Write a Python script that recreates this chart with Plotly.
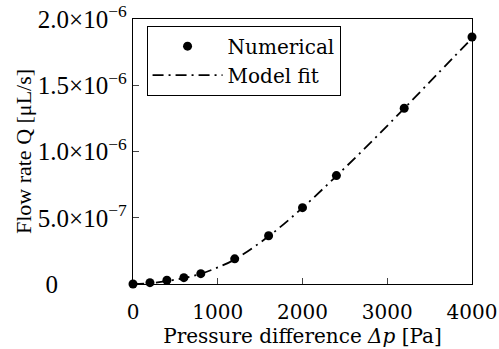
import plotly.graph_objects as go

pressure = [0, 200, 400, 600, 800, 1200, 1600, 2000, 2400, 3200, 4000]
flow_numerical = [0.0, 0.010e-6, 0.028e-6, 0.048e-6, 0.078e-6, 0.19e-6, 0.364e-6,
                  0.576e-6, 0.818e-6, 1.326e-6, 1.864e-6]
fit_pressure = [0, 200, 400, 600, 800, 1000, 1200, 1600, 2000, 2400, 2800, 3200, 3600, 4000]
flow_fit = [0.0, 0.006e-6, 0.022e-6, 0.045e-6, 0.078e-6, 0.125e-6, 0.185e-6, 0.36e-6,
            0.575e-6, 0.815e-6, 1.065e-6, 1.325e-6, 1.59e-6, 1.855e-6]

y_tickvals = [0, 5e-7, 1e-6, 1.5e-6, 2e-6]
y_ticktext = ["0" + "\u00a0" * 11,
              "5.0×10<sup>−7</sup>", "1.0×10<sup>−6</sup>",
              "1.5×10<sup>−6</sup>", "2.0×10<sup>−6</sup>"]
x_tickvals = [0, 1000, 2000, 3000, 4000]

FX = dict(family="DejaVu Serif", size=20, color="black")
FXT = dict(family="DejaVu Serif", size=20, color="black")
FY = dict(family="Liberation Serif", size=25, color="black")
FYT = dict(family="Liberation Serif", size=22, color="black")

fig = go.Figure()
fig.add_trace(go.Scatter(
    x=pressure, y=flow_numerical, mode="markers", name="Numerical",
    marker=dict(color="black", size=9), cliponaxis=False))
fig.add_trace(go.Scatter(
    x=fit_pressure, y=flow_fit, mode="lines", name="Model fit",
    line=dict(color="black", width=1.8, dash="11px,5px,2px,5px", shape="spline"),
    cliponaxis=False))

fig.update_layout(
    width=499, height=349,
    margin=dict(l=133, r=27, t=19, b=65),
    paper_bgcolor="white", plot_bgcolor="white",
    font=FX,
    showlegend=True,
    legend=dict(x=0.04, y=0.975, xanchor="left", yanchor="top",
                bordercolor="black", borderwidth=1, bgcolor="white",
                font=FX, tracegroupgap=0, itemwidth=70),
    xaxis=dict(range=[0, 4000], tickvals=x_tickvals, ticks="inside", ticklen=6,
               tickfont=FX, automargin=False,
               showline=True, mirror=True, linecolor="black", linewidth=1.3,
               showgrid=False, zeroline=False, ticklabelstandoff=10,
               title=dict(text="Pressure difference <i>Δp</i> [Pa]", standoff=2, font=FXT)),
    yaxis=dict(range=[0, 2e-6], tickvals=y_tickvals, ticktext=y_ticktext,
               ticks="inside", ticklen=6, tickfont=FY, automargin=False,
               showline=True, mirror=True, linecolor="black", linewidth=1.3,
               showgrid=False, zeroline=False,
               title=dict(text="Flow rate Q [μL/s]", standoff=0, font=FYT)),
)

fig.write_html("out.html")
